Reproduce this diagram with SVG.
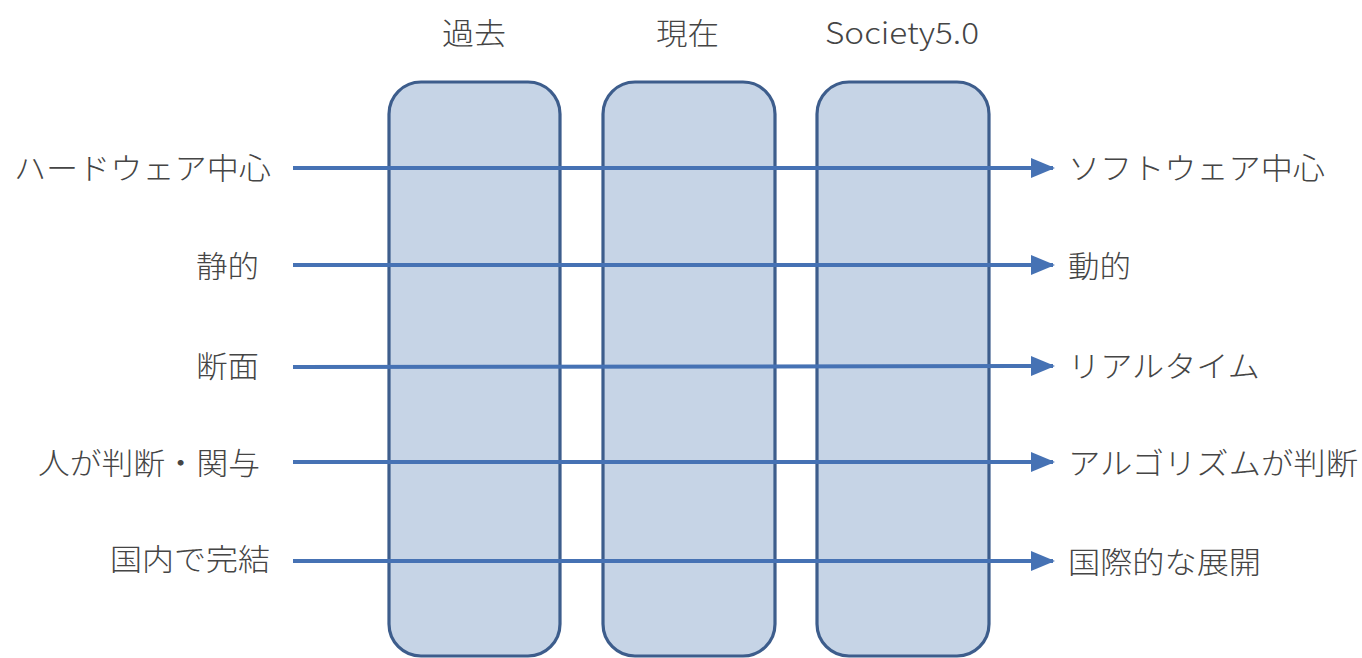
<svg xmlns="http://www.w3.org/2000/svg" width="1362" height="658" viewBox="0 0 1362 658">
  <style>
    .box { fill: #c6d4e6; stroke: #3d5d8c; stroke-width: 3.2; }
    .lbl { font-family: "Noto Sans CJK JP", "Noto Sans", sans-serif; font-size: 30px; font-weight: 300; fill: #454545; }
    .arr { stroke: #4672b4; stroke-width: 4; fill: none; marker-end: url(#ah); }
  </style>
  <defs>
    <marker id="ah" markerWidth="6" markerHeight="5" refX="5.5" refY="2.5" orient="auto" markerUnits="strokeWidth">
      <path d="M0,0 L6,2.5 L0,5 Z" fill="#4672b4"/>
    </marker>
  </defs>
  <rect width="1362" height="658" fill="#ffffff"/>

  <g id="header-past"><text class="lbl" x="442" y="44" textLength="64" lengthAdjust="spacingAndGlyphs">過去</text></g>
  <g id="header-present"><text class="lbl" x="656" y="44" textLength="63" lengthAdjust="spacingAndGlyphs">現在</text></g>
  <g id="header-society"><text class="lbl" x="825" y="44" textLength="154" lengthAdjust="spacingAndGlyphs">Society5.0</text></g>

  <g id="col-past"><rect class="box" x="389" y="82" width="171" height="574" rx="32"/></g>
  <g id="col-present"><rect class="box" x="603" y="82" width="172" height="574" rx="32"/></g>
  <g id="col-society"><rect class="box" x="817" y="82" width="172" height="574" rx="32"/></g>

  <g id="connectors">
    <line class="arr" x1="293" y1="168" x2="1053" y2="168"/>
    <line class="arr" x1="293" y1="265" x2="1053" y2="265"/>
    <line class="arr" x1="293" y1="367" x2="1053" y2="366"/>
    <line class="arr" x1="293" y1="462" x2="1053" y2="462"/>
    <line class="arr" x1="293" y1="561" x2="1053" y2="561"/>
  </g>

  <g id="left-1"><text class="lbl" x="14" y="179" textLength="257" lengthAdjust="spacingAndGlyphs">ハードウェア中心</text></g>
  <g id="left-2"><text class="lbl" x="196" y="277" textLength="63" lengthAdjust="spacingAndGlyphs">静的</text></g>
  <g id="left-3"><text class="lbl" x="196" y="377" textLength="63" lengthAdjust="spacingAndGlyphs">断面</text></g>
  <g id="left-4"><text class="lbl" x="38" y="474" textLength="222" lengthAdjust="spacingAndGlyphs">人が判断・関与</text></g>
  <g id="left-5"><text class="lbl" x="110" y="570" textLength="160" lengthAdjust="spacingAndGlyphs">国内で完結</text></g>

  <g id="right-1"><text class="lbl" x="1068" y="179" textLength="257" lengthAdjust="spacingAndGlyphs">ソフトウェア中心</text></g>
  <g id="right-2"><text class="lbl" x="1068" y="277" textLength="63" lengthAdjust="spacingAndGlyphs">動的</text></g>
  <g id="right-3"><text class="lbl" x="1068" y="377" textLength="192" lengthAdjust="spacingAndGlyphs">リアルタイム</text></g>
  <g id="right-4"><text class="lbl" x="1068" y="474" textLength="290" lengthAdjust="spacingAndGlyphs">アルゴリズムが判断</text></g>
  <g id="right-5"><text class="lbl" x="1068" y="573" textLength="193" lengthAdjust="spacingAndGlyphs">国際的な展開</text></g>
</svg>
